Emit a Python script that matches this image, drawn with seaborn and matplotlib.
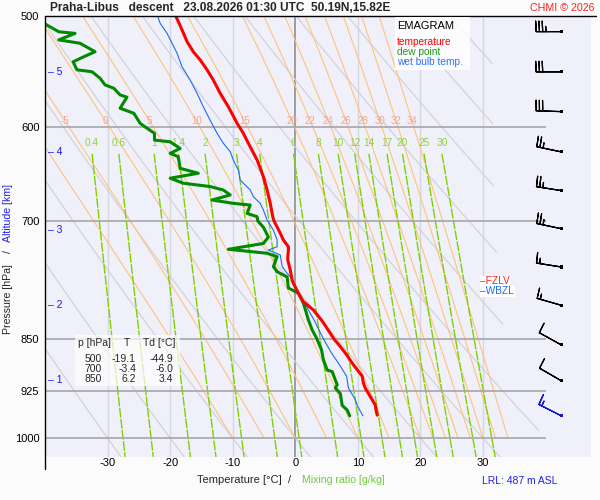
import numpy as np
import pandas as pd
import matplotlib
matplotlib.use("Agg")
import matplotlib.pyplot as plt
import seaborn as sns
from matplotlib.lines import Line2D
from matplotlib.patches import Rectangle
from matplotlib.ticker import NullLocator

# ---------------- data ----------------
temp_p = [500, 511.5, 521.5, 530.2, 537.4, 546.2, 555.4, 567.7, 580.3, 596.3, 606.2, 616.2,
          633.4, 650.9, 665.4, 680.1, 695.2, 700, 714.3, 722.3, 730.3, 734.3, 742.3, 746.4,
          758.8, 771.3, 775.5, 788.3, 792.6, 799.3, 810.3, 825, 838, 850, 860.4, 872, 884.2,
          903.4, 914, 921.4, 934.3, 947.2, 955, 963]
temp_t = [-19.1, -18.1, -17.3, -16.3, -15.2, -14.1, -13.1, -12.0, -10.7, -9.3, -8.3, -7.5,
          -6.1, -5.1, -4.5, -4.0, -3.6, -3.4, -2.4, -1.9, -1.1, -1.1, -1.2, -1.2,
          -0.8, -0.5, -0.3, 0.5, 0.8, 1.3, 2.9, 4.3, 5.3, 6.2, 7.2, 8.2, 9.1,
          10.7, 10.9, 11.2, 12.0, 12.8, 12.9, 13.1]

dew_p = [500, 506.6, 513.1, 514.5, 520.0, 522.9, 530.2, 534.6, 539.0, 546.2, 547.9, 553.8,
         559.9, 563.0, 569.2, 571.3, 581.8, 586.6, 596.3, 601.2, 606.2, 613.0, 614.7, 621.5,
         626.5, 630.0, 642.1, 647.3, 652.6, 658.0, 661.6, 665.4, 670.8, 676.4, 680.1, 682.0,
         691.4, 695.2, 700, 707.3, 718.8, 726.4, 733.4, 738.2, 742.3, 754.6, 760.9, 767.5,
         781.5, 788.3, 801.3, 823.7, 837.3, 848.5, 865.3, 879.6, 894.2, 896.6, 909.0, 916.0,
         921.0, 929.5, 947.8, 955.0, 964.0]
dew_t = [-44.9, -40.0, -37.8, -35.2, -37.8, -34.4, -32.0, -33.8, -35.5, -34.9, -32.5, -31.2,
         -30.4, -29.0, -28.0, -26.9, -28.0, -25.8, -24.8, -23.7, -22.5, -22.5, -20.0, -18.4,
         -20.0, -18.7, -18.4, -15.5, -20.0, -17.9, -13.6, -11.5, -10.4, -13.3, -9.9, -7.2,
         -7.7, -6.1, -6.0, -5.1, -4.3, -5.1, -10.7, -4.5, -2.9, -3.5, -2.9, -1.3,
         -1.1, 0.5, 1.3, 2.1, 2.7, 3.4, 4.2, 4.5, 5.1, 5.9, 6.4, 6.7,
         6.4, 7.2, 7.5, 8.3, 8.7]

wb_p = [500, 506.0, 514.4, 522.8, 531.5, 543.4, 555.4, 567.7, 580.3, 593.4, 606.2, 616.2,
        624.8, 633.4, 643.9, 654.5, 665.4, 672.7, 680.1, 687.6, 699.0, 710.5, 722.3, 730.3,
        734.3, 740.3, 754.6, 762.9, 767.1, 784.1, 801.3, 823.7, 851.2, 869.9, 884.2, 903.4,
        921.0, 939.0, 948.0, 964.0]
wb_t = [-22.0, -21.6, -20.5, -19.7, -18.9, -18.1, -16.8, -15.7, -14.7, -13.6, -12.5, -11.5,
        -10.4, -9.9, -9.1, -8.8, -7.2, -6.7, -5.6, -5.1, -4.5, -3.5, -2.9, -2.9,
        -4.3, -2.4, -2.1, -1.3, -0.8, 0.3, 1.5, 3.0, 4.6, 5.8, 6.9, 8.2,
        8.5, 9.6, 9.9, 10.8]

p_levels = [500, 600, 700, 850, 925, 1000]
t_ticks = [-30, -20, -10, 0, 10, 20, 30]
theta_dry = [-30, -20, -10, 0, 10, 20, 30, 40, 50, 60, 70, 80, 90]
theta_w = [-10, -5, 0, 5, 10, 15, 20, 22, 24, 26, 28, 30, 32, 34]
theta_w_labels = [-5, 0, 5, 10, 15, 20, 22, 24, 26, 28, 30, 32, 34]
mix_ratios = [0.4, 0.6, 1, 1.4, 2, 3, 4, 6, 8, 10, 12, 14, 17, 20, 25, 30]
mix_labels = ["0.4", "0.6", "1", "1.4", "2", "3", "4", "6", "8", "10", "12", "14", "17", "20", "25", "30"]
alt_km = [1, 2, 3, 4, 5]
alt_p = [909, 804, 711, 625, 548]
barb_p = [513, 548, 585, 625, 666, 709, 755, 804, 858, 910, 964]
barb_dir = [270, 270, 272, 282, 279, 282, 279, 286, 299, 300, 297]
barb_spd = [35, 30, 30, 25, 25, 25, 15, 15, 10, 10, 15]
tbl_p = [500, 700, 850]
tbl_t = [-19.1, -3.4, 6.2]
tbl_td = [-44.9, -6.0, 3.4]

# ---------------- thermodynamics helpers ----------------
def esat(tc):
    return 6.112 * np.exp(17.67 * tc / (tc + 243.5))

def mixing_T(w, p):
    e = w * p / (622.0 + w)
    l = np.log(e / 6.112)
    return 243.5 * l / (17.67 - l)

def dry_T(theta_c, p):
    return (theta_c + 273.15) * (p / 1000.0) ** 0.2857 - 273.15

def moist_line(tw):
    Rd, cp, Lv, eps = 287.04, 1005.7, 2.501e6, 0.622
    ps = np.linspace(1000.0, 495.0, 506)
    def f(T, p):
        e = esat(T - 273.15)
        rs = eps * e / (p - e)
        return (Rd * T + Lv * rs) / (p * (cp + Lv * Lv * rs * eps / (Rd * T * T)))
    T = tw + 273.15
    out = [T]
    for i in range(len(ps) - 1):
        p, dp = ps[i], ps[i + 1] - ps[i]
        k1 = f(T, p)
        k2 = f(T + dp * k1, p + dp)
        T = T + dp * 0.5 * (k1 + k2)
        out.append(T)
    return ps, np.array(out) - 273.15

# ---------------- figure ----------------
sns.set_theme(style="white")
plt.rcParams['font.family'] = ['Liberation Sans', 'DejaVu Sans']

W, H = 600, 500
fig = plt.figure(figsize=(6, 5), dpi=100, facecolor='#fbfbfb')
def fx(px): return px / W
def fy(py): return 1 - py / H

PX_PER_C = 6.257
P_TOP = 500.0
P_BOT = 500.0 * np.exp(441.0 / 609.0)
T_LEFT = -40.0
T_RIGHT = T_LEFT + 546.0 / PX_PER_C

ax = fig.add_axes([fx(45), fy(457), 546 / W, 441 / H])
ax.set_facecolor('#f0f0fb')
ax.set_yscale('log')
ax.set_xlim(T_LEFT, T_RIGHT)
ax.set_ylim(P_BOT, P_TOP)
for s in ax.spines.values():
    s.set_visible(False)

# isotherms
for t in t_ticks:
    ax.vlines(t, P_TOP, P_BOT, color='#8f8f8f' if t == 0 else '#d6d6de',
              lw=1.2 if t == 0 else 1.0, zorder=1)

# dry adiabats (clipped at right)
pp = np.geomspace(P_TOP, P_BOT, 300)
clip_T = np.interp(pp, [500, 700, 830, 996, 1040], [31.5, 31.8, 33.2, 39.3, 40])
for th in theta_dry:
    tt = dry_T(th, pp)
    tt = np.where(tt <= clip_T, tt, np.nan)
    ax.plot(tt, pp, color='#d2d2d8', lw=0.9, zorder=1.5)

# moist adiabats
for tw in theta_w:
    ps, ts = moist_line(tw)
    ax.plot(ts, ps, color='#ffc27a', lw=0.8, zorder=1.6)
    if tw in theta_w_labels:
        tl = np.interp(594.0, ps[::-1], ts[::-1])
        ax.text(tl, 594.0, str(tw), color='#f6a58c', fontsize=7, ha='center',
                va='center', zorder=3)

# mixing-ratio lines
pm = np.geomspace(627.0, P_BOT, 200)
for w, lab in zip(mix_ratios, mix_labels):
    ax.plot(mixing_T(w, pm), pm, color='#7fd000', lw=1.0, dashes=(7, 1.0), zorder=1.7)
    ax.text(mixing_T(w, 627.0), 616.0, lab, color='#8fd13a', fontsize=7.3,
            ha='center', va='center', zorder=3)

# isobars
ax.hlines(p_levels[1:], T_LEFT, 40, color='#a6a6a6', lw=1.2, zorder=2)

# profiles (seaborn)
df_t = pd.DataFrame({'T': temp_t, 'p': temp_p})
df_d = pd.DataFrame({'T': dew_t, 'p': dew_p})
df_w = pd.DataFrame({'T': wb_t, 'p': wb_p})
sns.lineplot(data=df_w, x='T', y='p', sort=False, estimator=None, color='#1a6cf0', lw=0.8, ax=ax, zorder=5)
sns.lineplot(data=df_d, x='T', y='p', sort=False, estimator=None, color='#008a00', lw=2.2, ax=ax, zorder=5)
sns.lineplot(data=df_t, x='T', y='p', sort=False, estimator=None, color='#ff0000', lw=2.2, ax=ax, zorder=5)
ax.set_xlabel('')
ax.set_ylabel('')

# ticks
ax.set_yticks(p_levels)
ax.set_yticklabels([str(p) for p in p_levels])
ax.yaxis.set_minor_locator(NullLocator())
ax.set_xticks(t_ticks)
ax.set_xticklabels([str(t) for t in t_ticks])
ax.tick_params(axis='y', length=0, pad=4, labelsize=8, colors='black')
ax.tick_params(axis='x', length=0, pad=1, labelsize=8, colors='black')
ax.grid(False)

# altitude marks
for a, p in zip(alt_km, alt_p):
    ax.text(-39.6, p, '– ' + str(a), color='#1a1ae6', fontsize=7.5, ha='left', va='center', zorder=4)

# freezing / wet-bulb zero levels
p_fz = np.interp(0.0, temp_t[24:30], temp_p[24:30])
p_wb = np.interp(0.0, wb_t[27:31], wb_p[27:31])
ax.annotate('–FZLV', xy=(29.6, p_fz), xytext=(0, 4.2), textcoords='offset points', color='#ff2020',
            fontsize=7.3, ha='left', va='center', zorder=6,
            bbox=dict(boxstyle='square,pad=0.05', fc='white', ec='none'))
ax.annotate('–WBZL', xy=(29.6, p_wb), xytext=(0, -3.6), textcoords='offset points', color='#1a6cf0',
            fontsize=7.3, ha='left', va='center', zorder=6.5,
            bbox=dict(boxstyle='square,pad=0.05', fc='white', ec='none'))

# wind barbs
d = np.deg2rad(barb_dir)
u = -np.array(barb_spd) * np.sin(d)
v = -np.array(barb_spd) * np.cos(d)
bx = np.full(len(barb_p), 42.5)
bcol = ['black'] * (len(barb_p) - 1) + ['#1414c8']
ax.barbs(bx, barb_p, u, v, length=6, linewidth=0.9, barbcolor=bcol, flagcolor=bcol,
         sizes=dict(spacing=0.13, height=0.42, width=0.04), zorder=6, clip_on=False)
ax.scatter(bx, barb_p, marker='s', s=5, color=bcol, zorder=7, linewidths=0)

# table
fig.patches.append(Rectangle((fx(75), fy(386)), 105 / W, 51 / H, transform=fig.transFigure,
                             fc='white', ec='none', alpha=0.7, zorder=4))
tk = dict(fontsize=7.5, va='center', zorder=6)
fig.text(fx(78), fy(343), 'p [hPa]', ha='left', **tk)
fig.text(fx(127), fy(343), 'T', ha='center', **tk)
fig.text(fx(143), fy(343), 'Td [°C]', ha='left', **tk)
for i, (pv, tv, tdv) in enumerate(zip(tbl_p, tbl_t, tbl_td)):
    yy = 358.5 + 10 * i
    fig.text(fx(102), fy(yy), str(pv), ha='right', **tk)
    fig.text(fx(136), fy(yy), f'{tv:.1f}', ha='right', **tk)
    fig.text(fx(173), fy(yy), f'{tdv:.1f}', ha='right', **tk)

# legend box
fig.patches.append(Rectangle((fx(395), fy(70)), 75 / W, 53 / H, transform=fig.transFigure,
                             fc='white', ec='none', alpha=0.85, zorder=4))
lk = dict(ha='left', va='center', zorder=6)
fig.text(fx(397), fy(26), 'EMAGRAM', fontsize=8, color='black', **lk)
fig.text(fx(397), fy(42), 'temperature', fontsize=7.3, color='#ff0000', **lk)
fig.text(fx(397), fy(51.7), 'dew point', fontsize=7.3, color='#1a9a1a', **lk)
fig.text(fx(397), fy(61.7), 'wet bulb temp.', fontsize=7.3, color='#2a72f0', **lk)

# frame lines
fig.add_artist(Line2D([fx(45), fx(45)], [fy(16), fy(469)], color='black', lw=1.0))
fig.add_artist(Line2D([fx(45), fx(596)], [fy(15.5), fy(15.5)], color='black', lw=1.0))

# title and labels
fig.text(fx(50), fy(8), 'Praha-Libus   descent   23.08.2026 01:30 UTC  50.19N,15.82E',
         fontsize=8.6, fontweight='bold', ha='left', va='center')
fig.text(fx(595), fy(8), 'CHMI © 2026', fontsize=7.7, ha='right', va='center', color='#ff2020')
fig.text(fx(197), fy(480), 'Temperature [°C]  /', fontsize=8, ha='left', va='center')
fig.text(fx(302), fy(480), 'Mixing ratio [g/kg]', fontsize=7.6, ha='left', va='center', color='#6ccc3c')
fig.text(fx(482), fy(481), 'LRL: 487 m ASL', fontsize=7.5, ha='left', va='center', color='#2020f0')
fig.text(fx(8), fy(213), 'Altitude [km]', fontsize=7.6, rotation=90, ha='center', va='center', color='#2020f0')
fig.text(fx(8), fy(252), '/', fontsize=7.6, rotation=90, ha='center', va='center')
fig.text(fx(8), fy(299), 'Pressure [hPa]', fontsize=7.6, rotation=90, ha='center', va='center')

fig.savefig('out.png', dpi=100, facecolor=fig.get_facecolor())
